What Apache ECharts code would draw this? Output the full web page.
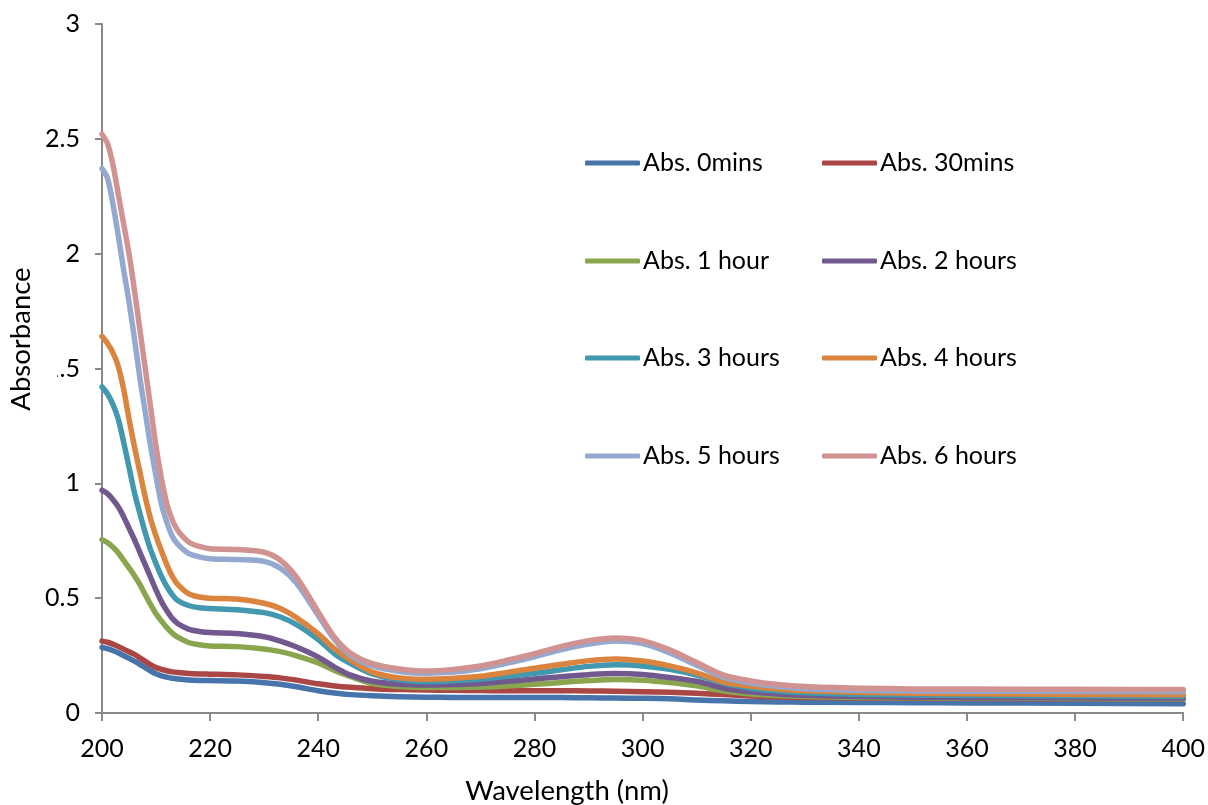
<!DOCTYPE html>
<html>
<head>
<meta charset="utf-8">
<script src="https://cdn.jsdelivr.net/npm/echarts@6/dist/echarts.min.js"></script>
<style>
  html, body { margin: 0; padding: 0; background: #ffffff; }
  #chart { width: 1208px; height: 805px; }
</style>
</head>
<body>
<div id="chart"></div>
<script>
// UV-Vis absorbance spectra recorded over time
const wavelengths = [200,201,202,203,204,205,206,207,208,209,210,211,212,213,214,216,218,220,225,230,233,236,240,243,246,250,255,260,265,270,275,280,285,290,295,300,305,310,315,320,325,330,340,350,360,380,400];

const abs0mins = [0.285,0.28,0.272,0.262,0.25,0.238,0.226,0.212,0.197,0.183,0.171,0.162,0.156,0.151,0.148,0.144,0.142,0.141,0.139,0.132,0.125,0.114,0.097,0.087,0.08,0.075,0.071,0.069,0.068,0.068,0.068,0.068,0.067,0.066,0.065,0.064,0.062,0.057,0.053,0.05,0.048,0.047,0.046,0.045,0.044,0.042,0.04];
const abs30mins = [0.313,0.308,0.30,0.29,0.278,0.267,0.255,0.24,0.225,0.21,0.198,0.19,0.184,0.179,0.176,0.172,0.17,0.169,0.166,0.159,0.153,0.143,0.127,0.118,0.112,0.106,0.102,0.1,0.099,0.098,0.097,0.097,0.097,0.096,0.095,0.093,0.09,0.086,0.08,0.074,0.07,0.068,0.065,0.064,0.063,0.062,0.061];
const abs1hour = [0.755,0.742,0.723,0.698,0.665,0.632,0.598,0.56,0.515,0.472,0.432,0.4,0.372,0.348,0.33,0.307,0.297,0.292,0.289,0.279,0.267,0.249,0.218,0.185,0.158,0.128,0.115,0.111,0.111,0.113,0.118,0.125,0.133,0.141,0.146,0.143,0.133,0.118,0.096,0.083,0.076,0.072,0.068,0.066,0.065,0.063,0.062];
const abs2hours = [0.97,0.955,0.93,0.898,0.855,0.805,0.755,0.70,0.645,0.59,0.535,0.485,0.445,0.412,0.39,0.365,0.355,0.35,0.346,0.332,0.313,0.287,0.243,0.2,0.165,0.138,0.125,0.122,0.124,0.128,0.138,0.148,0.158,0.167,0.172,0.168,0.155,0.138,0.108,0.092,0.083,0.077,0.072,0.069,0.068,0.066,0.065];
const abs3hours = [1.42,1.39,1.345,1.28,1.18,1.07,0.96,0.87,0.785,0.71,0.65,0.595,0.55,0.515,0.49,0.468,0.458,0.455,0.45,0.437,0.418,0.385,0.32,0.258,0.215,0.17,0.145,0.136,0.14,0.148,0.16,0.172,0.188,0.203,0.21,0.205,0.19,0.165,0.13,0.108,0.096,0.088,0.081,0.078,0.076,0.074,0.072];
const abs4hours = [1.64,1.61,1.57,1.51,1.41,1.28,1.16,1.05,0.94,0.845,0.77,0.705,0.645,0.595,0.56,0.52,0.505,0.50,0.496,0.478,0.455,0.415,0.345,0.28,0.23,0.178,0.153,0.147,0.151,0.16,0.177,0.195,0.212,0.228,0.235,0.226,0.205,0.175,0.135,0.117,0.104,0.097,0.09,0.086,0.084,0.081,0.079];
const abs5hours = [2.37,2.33,2.22,2.08,1.93,1.79,1.63,1.46,1.31,1.16,1.03,0.91,0.83,0.77,0.735,0.695,0.68,0.672,0.668,0.66,0.63,0.565,0.425,0.32,0.25,0.205,0.181,0.173,0.178,0.193,0.217,0.245,0.276,0.30,0.313,0.302,0.262,0.208,0.155,0.13,0.115,0.106,0.099,0.096,0.095,0.094,0.093];
const abs6hours = [2.52,2.48,2.39,2.26,2.13,2.00,1.84,1.67,1.50,1.33,1.16,1.02,0.91,0.84,0.795,0.745,0.725,0.715,0.712,0.70,0.665,0.59,0.44,0.33,0.26,0.215,0.192,0.183,0.19,0.205,0.23,0.258,0.29,0.315,0.327,0.315,0.275,0.22,0.165,0.14,0.124,0.115,0.108,0.105,0.104,0.103,0.102];

const seriesNames = ['Abs. 0mins','Abs. 30mins','Abs. 1 hour','Abs. 2 hours','Abs. 3 hours','Abs. 4 hours','Abs. 5 hours','Abs. 6 hours'];
const seriesValues = [abs0mins, abs30mins, abs1hour, abs2hours, abs3hours, abs4hours, abs5hours, abs6hours];
const seriesColors = ['#4674AB','#AA4643','#89A54E','#71588F','#4198AF','#DB843D','#93A9CF','#D19392'];

const xTicks = { min: 200, max: 400, step: 20 };
const yTicks = { min: 0, max: 3, step: 0.5 };

const FONT = 'Lato';
const chart = echarts.init(document.getElementById('chart'), null, { renderer: 'canvas' });

// two-column legend, one legend block per entry
const legendRows = [163, 261, 358, 456];
const legendCols = [585, 822];
const legends = seriesNames.map((name, i) => ({
  data: [name],
  left: legendCols[i % 2],
  top: legendRows[Math.floor(i / 2)] - 14,
  padding: 0,
  itemWidth: 55,
  itemHeight: 5,
  icon: 'roundRect',
  selectedMode: false,
  textStyle: { fontFamily: FONT, fontSize: 25, color: '#000', lineHeight: 28, padding: [0, 0, 0, -2] }
}));

const axisGrey = '#898989';

chart.setOption({
  animation: false,
  backgroundColor: '#ffffff',
  grid: { left: 102, right: 23, top: 24, bottom: 92, containLabel: false },
  legend: legends,
  xAxis: {
    type: 'value',
    min: xTicks.min, max: xTicks.max, interval: xTicks.step,
    axisLine: { show: true, lineStyle: { color: axisGrey, width: 2 } },
    axisTick: { show: true, length: 8, lineStyle: { color: axisGrey, width: 2 } },
    splitLine: { show: false },
    axisLabel: { fontFamily: FONT, fontSize: 25, color: '#000', margin: 23 }
  },
  yAxis: {
    type: 'value',
    min: yTicks.min, max: yTicks.max, interval: yTicks.step,
    axisLine: { show: true, lineStyle: { color: axisGrey, width: 2 } },
    axisTick: { show: true, length: 7, lineStyle: { color: axisGrey, width: 2 } },
    splitLine: { show: false },
    axisLabel: { fontFamily: FONT, fontSize: 25, color: '#000', margin: 22 }
  },
  graphic: [
    // y-axis title with its opaque text box
    { type: 'rect', z: 100, shape: { x: 0, y: 262, width: 57, height: 156 }, style: { fill: '#ffffff' } },
    { type: 'text', z: 101, x: 21, y: 339, rotation: Math.PI / 2,
      style: { text: 'Absorbance', fontFamily: FONT, fontSize: 27.5, fill: '#000', align: 'center', verticalAlign: 'middle' } },
    { type: 'text', z: 101, x: 567, y: 791,
      style: { text: 'Wavelength (nm)', fontFamily: FONT, fontSize: 27.5, fill: '#000', align: 'center', verticalAlign: 'middle' } }
  ],
  series: seriesNames.map((name, i) => ({
    name,
    type: 'line',
    smooth: 0.3,
    symbol: 'none',
    color: seriesColors[i],
    lineStyle: { width: 5.5, color: seriesColors[i], cap: 'round', join: 'round' },
    data: wavelengths.map((w, k) => [w, seriesValues[i][k]])
  }))
});
</script>
</body>
</html>
